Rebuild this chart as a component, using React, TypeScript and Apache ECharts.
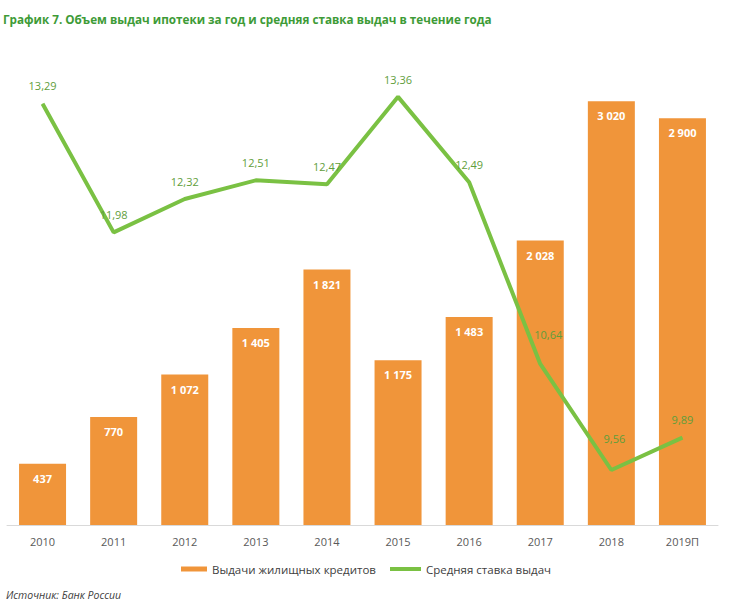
import React, { useEffect, useRef } from "react";
import * as echarts from "echarts";

const categories = ["2010", "2011", "2012", "2013", "2014", "2015", "2016", "2017", "2018", "2019П"];
const loans = [437, 770, 1072, 1405, 1821, 1175, 1483, 2028, 3020, 2900];
const rates = [13.29, 11.98, 12.32, 12.51, 12.47, 13.36, 12.49, 10.64, 9.56, 9.89];

const ORANGE = "#F0953A";
const GREEN = "#7AC143";
const LABEL_GREEN = "#5F9E3B";
const FONT = "'Open Sans', sans-serif";

const fmtThousands = (v: number) => String(v).replace(/\B(?=(\d{3})+(?!\d))/g, " ");
const fmtRate = (v: number) => v.toFixed(2).replace(".", ",");

export default function App() {
  const ref = useRef<HTMLDivElement>(null);
  useEffect(() => {
    document.body.style.margin = "0";
    if (!ref.current) return;
    const chart = echarts.init(ref.current, undefined, { renderer: "svg" });
    const rateData = rates.map((v, i) => {
      if (i === 7) return { value: v, label: { offset: [8, -12] } };
      if (i === 8) return { value: v, label: { offset: [3, -14] } };
      return { value: v };
    });
    chart.setOption({
      animation: false,
      backgroundColor: "#ffffff",
      title: {
        text: "График 7. Объем выдач ипотеки за год и средняя ставка выдач в течение года",
        left: 3,
        top: 13,
        padding: 0,
        textStyle: { fontFamily: FONT, fontSize: 11.7, fontWeight: "bold", color: "#3E9B37" },
      },
      legend: [
        {
          data: [{ name: "Выдачи жилищных кредитов", icon: "rect" }],
          left: 181,
          top: 563,
          padding: 0,
          itemWidth: 26,
          itemHeight: 5,
          textStyle: { fontFamily: FONT, fontSize: 11.5, color: "#404040" },
        },
        {
          data: [{ name: "Средняя ставка выдач", icon: "rect" }],
          left: 390,
          top: 563,
          padding: 0,
          itemWidth: 31,
          itemHeight: 4,
          textStyle: { fontFamily: FONT, fontSize: 11.5, color: "#404040" },
        },
      ],
      grid: { left: 7, right: 14, top: 34, bottom: 85, containLabel: false },
      xAxis: {
        type: "category",
        data: categories,
        axisLine: { show: true, lineStyle: { color: "#D9D9D9", width: 1 } },
        axisTick: { show: false },
        axisLabel: { margin: 11, fontFamily: FONT, fontSize: 11, color: "#595959" },
      },
      yAxis: [
        { type: "value", min: 0, max: 3500, show: false, splitLine: { show: false } },
        { type: "value", min: 9, max: 14, show: false, splitLine: { show: false } },
      ],
      series: [
        {
          name: "Выдачи жилищных кредитов",
          type: "bar",
          data: loans,
          barWidth: 47,
          itemStyle: { color: ORANGE },
          label: {
            show: true,
            position: "insideTop",
            distance: 9,
            fontFamily: FONT,
            fontSize: 11,
            fontWeight: "bold",
            color: "#ffffff",
            formatter: (p: any) => fmtThousands(p.value),
          },
        },
        {
          name: "Средняя ставка выдач",
          type: "line",
          yAxisIndex: 1,
          data: rateData,
          symbol: "circle",
          symbolSize: 0.5,
          showSymbol: true,
          itemStyle: { color: GREEN },
          lineStyle: { color: GREEN, width: 4 },
          label: {
            show: true,
            position: "top",
            distance: 12,
            fontFamily: FONT,
            fontSize: 11,
            color: LABEL_GREEN,
            formatter: (p: any) => fmtRate(p.value),
          },
          z: 3,
        },
      ],
      graphic: [
        {
          type: "text",
          left: 6,
          top: 589,
          style: {
            text: "Источник: Банк России",
            fontFamily: FONT,
            fontSize: 10.5,
            fontStyle: "italic",
            fill: "#404040",
          },
        },
      ],
    });
    return () => chart.dispose();
  }, []);
  return <div ref={ref} style={{ width: 732, height: 610 }} />;
}
